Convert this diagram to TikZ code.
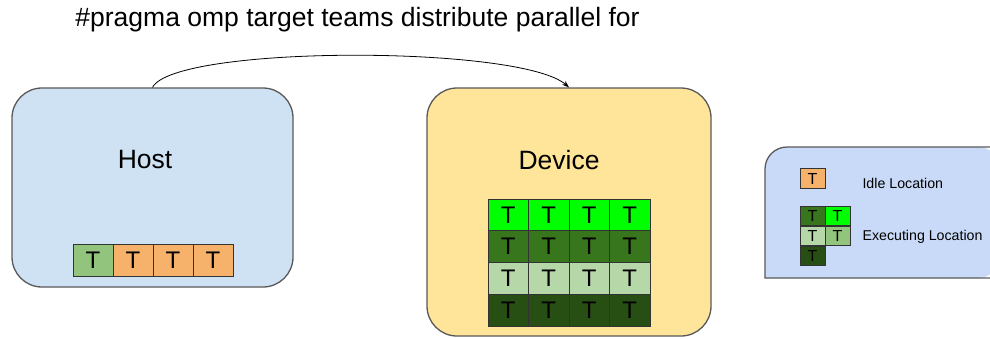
\documentclass[tikz,border=0pt]{standalone}
\usepackage{fontspec}
\setmainfont{Liberation Sans}
\usetikzlibrary{arrows.meta,positioning}
\definecolor{hostblue}{HTML}{CFE2F3}
\definecolor{devyellow}{HTML}{FFE599}
\definecolor{keyblue}{HTML}{C9DAF8}
\definecolor{edgegray}{HTML}{595959}
\definecolor{idle}{HTML}{F6B26B}
\definecolor{tgreen}{HTML}{00FF00}
\definecolor{tdark}{HTML}{38761D}
\definecolor{tlight}{HTML}{B6D7A8}
\definecolor{tdeep}{HTML}{274E13}
\definecolor{tmid}{HTML}{93C47D}
\tikzset{
  panel/.style={draw=edgegray, line width=1.3pt, rounded corners=30pt, inner sep=0pt},
  cell/.style={draw=black!80, line width=0.8pt, inner sep=0pt, minimum width=40.5pt,
    minimum height=31.75pt, font=\fontsize{24}{24}\selectfont},
  keycell/.style={cell, minimum width=25pt, minimum height=19.5pt, font=\fontsize{16}{16}\selectfont},
  keytext/.style={anchor=west, font=\fontsize{14.2}{16}\selectfont},
  big/.style={font=\fontsize{26.5}{30}\selectfont}
}
\begin{document}
\begin{tikzpicture}[x=1pt, y=-1pt]
        \clip (0,0) rectangle (990,338);
        % title and offload arrow
        \node[big] (title) at (357.5,20) {\#pragma omp target teams distribute parallel for};
        \node[panel, fill=hostblue, minimum width=281pt, minimum height=199pt] (host) at (152.5,187.5) {};
        \node[panel, fill=devyellow, minimum width=284pt, minimum height=248pt] (device) at (569,212) {};
        \draw[line width=0.8pt, -{Stealth[length=7pt,width=5pt]}] (host.north) .. controls (175,45) and (520,45) .. (device.north);
        \node[big] (hostlbl) at (145,160) {Host};
        \node[big] (devlbl) at (559,160) {Device};
        % host threads
        \foreach \k/\c in {1/tmid,2/idle,3/idle,4/idle}
            \node[cell, minimum width=40pt, minimum height=32pt, fill=\c] (h\k) at ({73+40*(\k-0.5)},260) {T};
        % device threads
        \foreach \r/\c in {1/tgreen,2/tdark,3/tlight,4/tdeep}{
            \foreach \k in {1,...,4}
                \node[cell, fill=\c] (d\r\k) at ({488+40.5*(\k-0.5)},{199+31.75*(\r-0.5)}) {T};
        }
        % legend
        \fill[keyblue] (1000,278) -- (765,278) -- (765,170) [rounded corners=22pt] -- (765,147) -- (1000,147) -- cycle;
        \draw[edgegray, line width=1.3pt] (1000,278) -- (765,278) -- (765,170) [rounded corners=22pt] -- (765,147) -- (1000,147);
        \node[keycell, fill=idle] (kidle) at (812.5,178.5) {T};
        \node[keytext] (idletxt) at (859,183) {Idle Location};
        \node[keycell, fill=tdark] (k1) at (812.5,216) {T};
        \node[keycell, fill=tgreen] (k2) at (837.5,216) {T};
        \node[keycell, fill=tlight] (k3) at (812.5,236) {T};
        \node[keycell, fill=tmid] (k4) at (837.5,236) {T};
        \node[keycell, fill=tdeep] (k5) at (812.5,256) {T};
        \node[keytext] (exectxt) at (859,237) {Executing Location};
\end{tikzpicture}
\end{document}
